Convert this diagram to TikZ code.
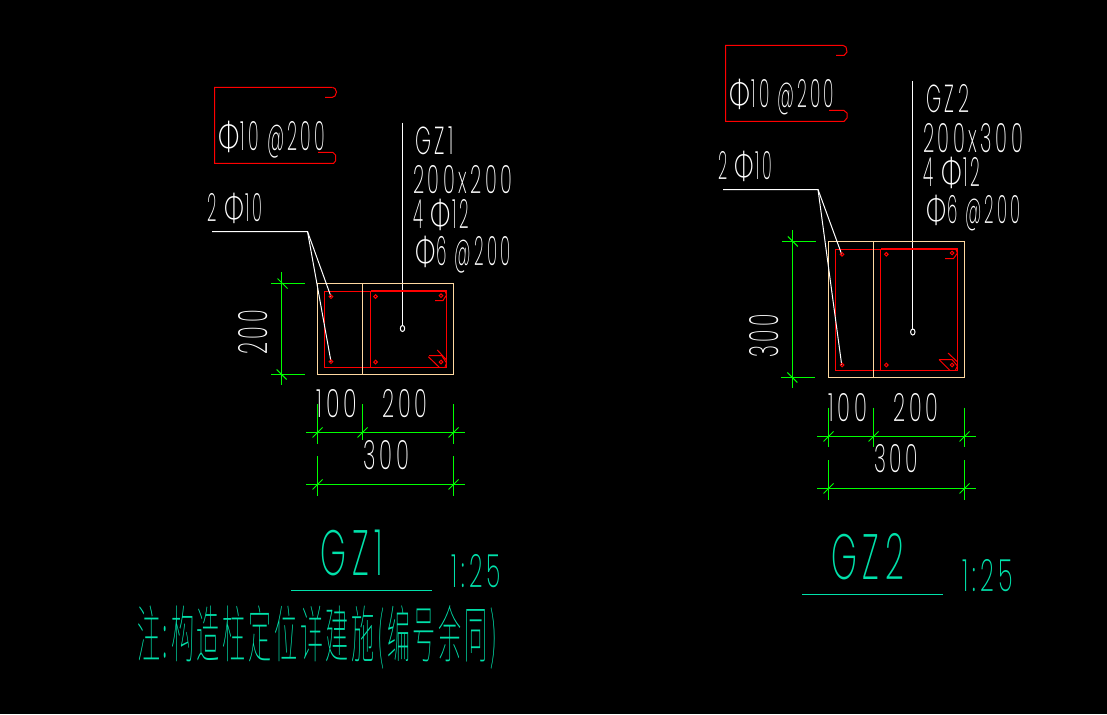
\documentclass[tikz,border=0pt]{standalone}
\usepackage{fontspec}
\usepackage{graphicx}
\newfontfamily\cad{Poppins ExtraLight}[LetterSpace=18]
\newfontfamily\phifont{Lato Light}
\newfontfamily\cjk{Noto Sans CJK SC Thin}
\newcommand{\Ph}{\scalebox{1.5}[0.95]{\phifont Φ}\hspace{0.08em}}
\definecolor{cadgreen}{RGB}{0,255,0}
\definecolor{cadred}{RGB}{255,0,0}
\definecolor{cadorange}{RGB}{255,217,160}
\definecolor{cadteal}{RGB}{0,225,170}
\newsavebox{\zbox}
\newcommand{\cadflat}[1]{\sbox{\zbox}{\cad 0}\raisebox{0pt}[\ht\zbox][0pt]{\cad #1}}
\newcommand{\cadt}[7][white]{\node[anchor=south west,inner sep=0pt,text=#1] (#2) at (#3,#4) {\resizebox{#5pt}{#6pt}{\cadflat{#7}}};}
\newcommand{\cadr}[7][white]{\node[anchor=south west,inner sep=0pt,text=#1,rotate=90] (#2) at (#3,#4) {\resizebox{#5pt}{#6pt}{\cadflat{#7}}};}
\tikzset{
  rebar/.style={draw=cadred,line width=1pt},
  rebarb/.style={draw=cadred,line width=2pt},
  conc/.style={draw=cadorange,line width=1pt},
  dim/.style={draw=cadgreen,line width=1pt},
  lead/.style={draw=white,line width=1pt},
  ttl/.style={draw=cadteal,line width=1pt},
}
\newcommand{\tick}[2]{\draw[dim] (#1-5,#2+5) -- (#1+5,#2-5);}
\newcommand{\backtick}[2]{\draw[dim] (#1-5,#2-5) -- (#1+5,#2+5);}
\begin{document}
\begin{tikzpicture}[x=1pt,y=-1pt]
\fill[black] (0,0) rectangle (1107,714);
\useasboundingbox (0,0) rectangle (1107,714);
% ---------- GZ1 ----------
\draw[rebar] (332.7,87.5) -- (214.5,87.5) -- (214.5,163.5) -- (333.5,163.5) -- (335.5,161) -- (335.5,155) -- (333,152.5) -- (318,152.5);
\draw[rebar] (332.7,87.5) -- (335,88.5) -- (336.5,92) -- (335,96) -- (332,97.5) -- (325,97.5);
\cadt{a1}{218}{151}{107}{29}{\Ph 10 @200}
\draw[lead] (402.5,122.7) -- (402.5,326);
\draw[lead] (402.5,328.5) ellipse (2.2 and 3);
\cadt{a2}{415}{155}{39}{28}{GZ1}
\cadt{a3}{413}{194}{99}{28}{200x200}
\cadt{a4}{413}{229}{56}{29}{4 \Ph 12}
\cadt{a5}{415}{266}{95}{29}{\Ph 6 @200}
\cadt{a6}{207}{222}{55}{28}{2 \Ph 10}
\draw[rebar] (324.5,291.5) rectangle (370.5,367.5);
\draw[rebar] (370.5,291) -- (370.5,367.5) -- (446.5,367.5) -- (446.5,291);
\draw[rebarb] (370.5,291) -- (446.5,291);
\draw[conc] (317.5,283.5) rectangle (453.5,374.5);
\draw[conc] (362.5,283.5) -- (362.5,374.5);
\draw[lead] (212,231.5) -- (307.5,231.5) -- (331,296.7);
\draw[lead] (307.5,231.5) -- (331,361.7);
\foreach \p in {(331,296.7),(331,361.7),(375.5,296.5),(375.5,362),(441,295.7),(441,362)}
  \draw[rebar] \p circle (1.8);
\draw[rebar] (445,290.7) -- (446.5,295) -- (443,300.5) -- (435,300.5);
\draw[rebar] (429,355.5) -- (441.7,355.5) -- (446.5,363) -- (445,367);
\draw[rebar] (437.3,350) -- (446.5,360);
\draw[rebar] (428.3,356.7) -- (439.3,367.3);
% dims
\draw[dim] (281.5,272.3) -- (281.5,385);
\draw[dim] (271,283.5) -- (305,283.5);
\draw[dim] (271,374.5) -- (305,374.5);
\backtick{282.5}{283.5}
\backtick{281.7}{374.5}
\cadr{a7}{268}{355}{45}{29}{200}
\draw[dim] (306,432.5) -- (465,432.5);
\draw[dim] (317.5,404.3) -- (317.5,443.7);
\draw[dim] (362.5,404.3) -- (362.5,440);
\draw[dim] (453.5,404.3) -- (453.5,443.7);
\tick{317.5}{432.5}\tick{362.5}{432.5}\tick{453.5}{432.5}
\draw[dim] (306,484.5) -- (465,484.5);
\draw[dim] (317.5,456) -- (317.5,495.7);
\draw[dim] (453.5,456) -- (453.5,495.7);
\tick{317.5}{484.5}\tick{453.5}{484.5}
\cadt{a8}{316}{418}{41}{28}{100}
\cadt{a9}{382}{418}{45}{28}{200}
\cadt{a10}{363}{470}{46}{29}{300}
\cadt[cadteal]{a11}{320}{576}{63}{46}{GZ1}
\draw[ttl] (291,590.5) -- (432,590.5);
\cadt[cadteal]{a12}{451}{588}{50}{33}{1:25}
\node[anchor=south west,inner sep=0pt,text=cadteal] (note) at (137,670) {\resizebox{360pt}{52pt}{\cjk\addfontfeatures{LetterSpace=12}注:构造柱定位详建施(编号余同)}};
% ---------- GZ2 ----------
\draw[rebar] (843.3,45.5) -- (725.5,45.5) -- (725.5,121.5) -- (844,121.5) -- (847,118) -- (847,113) -- (844,110.5) -- (829,110.5);
\draw[rebar] (843.3,45.5) -- (846,47) -- (847,52) -- (844,55.5) -- (836,55.5);
\cadt{b1}{729}{108}{105}{28}{\Ph 10 @200}
\draw[lead] (912.5,81) -- (912.5,329);
\draw[lead] (912.8,332) ellipse (2.2 and 3);
\cadt{b2}{926}{113}{43}{28}{GZ2}
\cadt{b3}{923}{153}{100}{29}{200x300}
\cadt{b4}{923}{187}{57}{29}{4 \Ph 12}
\cadt{b5}{926}{224}{94}{28}{\Ph 6 @200}
\cadt{b6}{718}{180}{54}{28}{2 \Ph 10}
\draw[rebar] (835.5,249.5) rectangle (880.5,370.5);
\draw[rebar] (880.5,249) -- (880.5,370.5) -- (957.5,370.5) -- (957.5,249);
\draw[rebarb] (881,249) -- (957.5,249);
\draw[conc] (828.5,241.5) rectangle (964.5,377.5);
\draw[conc] (873.5,241.5) -- (873.5,377.5);
\draw[lead] (723,189.5) -- (818,189.5) -- (841.7,254.3);
\draw[lead] (818,189.5) -- (841.7,365);
\foreach \p in {(842,254.3),(842,365),(886.3,254.3),(886.3,365),(952,253),(952,365)}
  \draw[rebar] \p circle (1.8);
\draw[rebar] (955.5,248.7) -- (957.5,253) -- (953.5,258.5) -- (945,258.5);
\draw[rebar] (939,359.5) -- (952,359.5) -- (957.5,366) -- (955.5,370);
\draw[rebar] (948,353) -- (957.5,362);
\draw[rebar] (939,359.5) -- (950,370.5);
% dims
\draw[dim] (792.5,230) -- (792.5,388.3);
\draw[dim] (782,241.5) -- (816,241.5);
\draw[dim] (781,377.5) -- (815,377.5);
\backtick{792.8}{241.5}
\backtick{792.3}{377.5}
\cadr{b7}{779}{358}{44}{29}{300}
\draw[dim] (817,436.5) -- (975.7,436.5);
\draw[dim] (828.5,407.7) -- (828.5,446.7);
\draw[dim] (873.5,407.7) -- (873.5,446.7);
\draw[dim] (964.5,407.7) -- (964.5,446.7);
\tick{828.5}{436.5}\tick{873.5}{436.5}\tick{964.5}{436.5}
\draw[dim] (817,488.5) -- (975.7,488.5);
\draw[dim] (828.5,460) -- (828.5,500);
\draw[dim] (964.5,460) -- (964.5,500);
\tick{828.5}{488.5}\tick{964.5}{488.5}
\cadt{b8}{828}{422}{39}{28}{100}
\cadt{b9}{893}{422}{45}{28}{200}
\cadt{b10}{874}{473}{44}{28}{300}
\cadt[cadteal]{b11}{831}{580}{73}{46}{GZ2}
\draw[ttl] (802,594.5) -- (943,594.5);
\cadt[cadteal]{b12}{962}{592}{51}{32}{1:25}
\end{tikzpicture}
\end{document}
